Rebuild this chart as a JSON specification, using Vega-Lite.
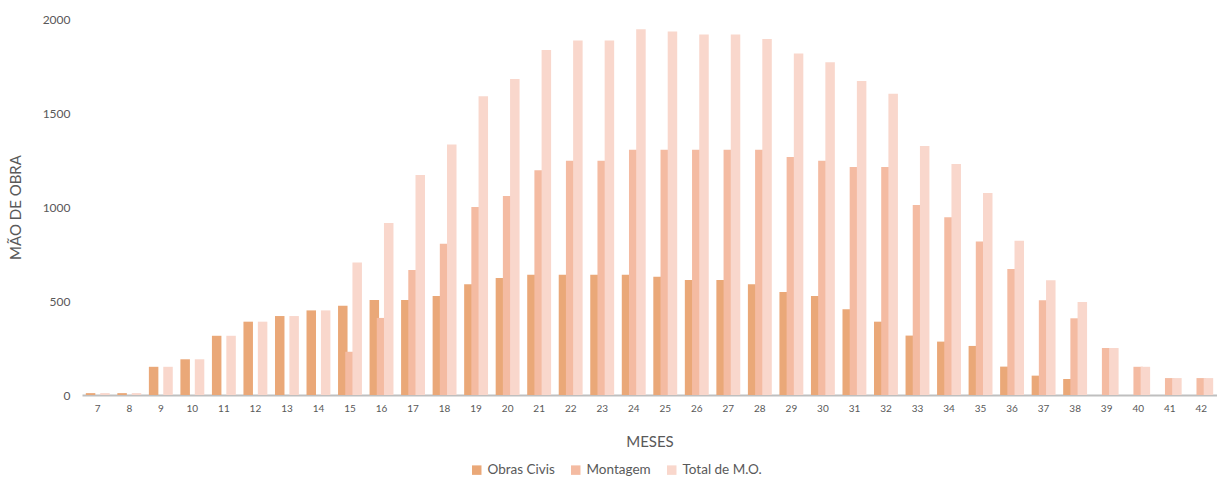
{
  "$schema": "https://vega.github.io/schema/vega-lite/v6.json",
  "width": 1135,
  "height": 376,
  "autosize": {"type": "none"},
  "padding": {"left": 82, "top": 19, "right": 0, "bottom": 82},
  "background": "white",
  "config": {
    "font": "Lato",
    "view": {"stroke": null},
    "axis": {"labelColor": "#595959", "titleColor": "#595959", "labelFont": "Lato", "titleFont": "Lato"}
  },
  "data": {
    "values": [
      {"mes": 7, "serie": "Obras Civis", "valor": 10}, {"mes": 7, "serie": "Montagem", "valor": 0}, {"mes": 7, "serie": "Total de M.O.", "valor": 10},
      {"mes": 8, "serie": "Obras Civis", "valor": 10}, {"mes": 8, "serie": "Montagem", "valor": 0}, {"mes": 8, "serie": "Total de M.O.", "valor": 10},
      {"mes": 9, "serie": "Obras Civis", "valor": 150}, {"mes": 9, "serie": "Montagem", "valor": 0}, {"mes": 9, "serie": "Total de M.O.", "valor": 150},
      {"mes": 10, "serie": "Obras Civis", "valor": 190}, {"mes": 10, "serie": "Montagem", "valor": 0}, {"mes": 10, "serie": "Total de M.O.", "valor": 190},
      {"mes": 11, "serie": "Obras Civis", "valor": 315}, {"mes": 11, "serie": "Montagem", "valor": 0}, {"mes": 11, "serie": "Total de M.O.", "valor": 315},
      {"mes": 12, "serie": "Obras Civis", "valor": 390}, {"mes": 12, "serie": "Montagem", "valor": 0}, {"mes": 12, "serie": "Total de M.O.", "valor": 390},
      {"mes": 13, "serie": "Obras Civis", "valor": 420}, {"mes": 13, "serie": "Montagem", "valor": 0}, {"mes": 13, "serie": "Total de M.O.", "valor": 420},
      {"mes": 14, "serie": "Obras Civis", "valor": 450}, {"mes": 14, "serie": "Montagem", "valor": 0}, {"mes": 14, "serie": "Total de M.O.", "valor": 450},
      {"mes": 15, "serie": "Obras Civis", "valor": 475}, {"mes": 15, "serie": "Montagem", "valor": 230}, {"mes": 15, "serie": "Total de M.O.", "valor": 705},
      {"mes": 16, "serie": "Obras Civis", "valor": 505}, {"mes": 16, "serie": "Montagem", "valor": 410}, {"mes": 16, "serie": "Total de M.O.", "valor": 915},
      {"mes": 17, "serie": "Obras Civis", "valor": 505}, {"mes": 17, "serie": "Montagem", "valor": 665}, {"mes": 17, "serie": "Total de M.O.", "valor": 1170},
      {"mes": 18, "serie": "Obras Civis", "valor": 527}, {"mes": 18, "serie": "Montagem", "valor": 805}, {"mes": 18, "serie": "Total de M.O.", "valor": 1332},
      {"mes": 19, "serie": "Obras Civis", "valor": 589}, {"mes": 19, "serie": "Montagem", "valor": 1000}, {"mes": 19, "serie": "Total de M.O.", "valor": 1589},
      {"mes": 20, "serie": "Obras Civis", "valor": 622}, {"mes": 20, "serie": "Montagem", "valor": 1059}, {"mes": 20, "serie": "Total de M.O.", "valor": 1681},
      {"mes": 21, "serie": "Obras Civis", "valor": 640}, {"mes": 21, "serie": "Montagem", "valor": 1195}, {"mes": 21, "serie": "Total de M.O.", "valor": 1835},
      {"mes": 22, "serie": "Obras Civis", "valor": 640}, {"mes": 22, "serie": "Montagem", "valor": 1246}, {"mes": 22, "serie": "Total de M.O.", "valor": 1886},
      {"mes": 23, "serie": "Obras Civis", "valor": 640}, {"mes": 23, "serie": "Montagem", "valor": 1246}, {"mes": 23, "serie": "Total de M.O.", "valor": 1886},
      {"mes": 24, "serie": "Obras Civis", "valor": 640}, {"mes": 24, "serie": "Montagem", "valor": 1305}, {"mes": 24, "serie": "Total de M.O.", "valor": 1945},
      {"mes": 25, "serie": "Obras Civis", "valor": 629}, {"mes": 25, "serie": "Montagem", "valor": 1305}, {"mes": 25, "serie": "Total de M.O.", "valor": 1934},
      {"mes": 26, "serie": "Obras Civis", "valor": 612}, {"mes": 26, "serie": "Montagem", "valor": 1305}, {"mes": 26, "serie": "Total de M.O.", "valor": 1917},
      {"mes": 27, "serie": "Obras Civis", "valor": 612}, {"mes": 27, "serie": "Montagem", "valor": 1305}, {"mes": 27, "serie": "Total de M.O.", "valor": 1917},
      {"mes": 28, "serie": "Obras Civis", "valor": 589}, {"mes": 28, "serie": "Montagem", "valor": 1305}, {"mes": 28, "serie": "Total de M.O.", "valor": 1894},
      {"mes": 29, "serie": "Obras Civis", "valor": 548}, {"mes": 29, "serie": "Montagem", "valor": 1266}, {"mes": 29, "serie": "Total de M.O.", "valor": 1816},
      {"mes": 30, "serie": "Obras Civis", "valor": 527}, {"mes": 30, "serie": "Montagem", "valor": 1246}, {"mes": 30, "serie": "Total de M.O.", "valor": 1770},
      {"mes": 31, "serie": "Obras Civis", "valor": 456}, {"mes": 31, "serie": "Montagem", "valor": 1213}, {"mes": 31, "serie": "Total de M.O.", "valor": 1670},
      {"mes": 32, "serie": "Obras Civis", "valor": 390}, {"mes": 32, "serie": "Montagem", "valor": 1213}, {"mes": 32, "serie": "Total de M.O.", "valor": 1603},
      {"mes": 33, "serie": "Obras Civis", "valor": 316}, {"mes": 33, "serie": "Montagem", "valor": 1011}, {"mes": 33, "serie": "Total de M.O.", "valor": 1325},
      {"mes": 34, "serie": "Obras Civis", "valor": 284}, {"mes": 34, "serie": "Montagem", "valor": 945}, {"mes": 34, "serie": "Total de M.O.", "valor": 1229},
      {"mes": 35, "serie": "Obras Civis", "valor": 261}, {"mes": 35, "serie": "Montagem", "valor": 816}, {"mes": 35, "serie": "Total de M.O.", "valor": 1074},
      {"mes": 36, "serie": "Obras Civis", "valor": 151}, {"mes": 36, "serie": "Montagem", "valor": 670}, {"mes": 36, "serie": "Total de M.O.", "valor": 820},
      {"mes": 37, "serie": "Obras Civis", "valor": 103}, {"mes": 37, "serie": "Montagem", "valor": 504}, {"mes": 37, "serie": "Total de M.O.", "valor": 610},
      {"mes": 38, "serie": "Obras Civis", "valor": 85}, {"mes": 38, "serie": "Montagem", "valor": 408}, {"mes": 38, "serie": "Total de M.O.", "valor": 495},
      {"mes": 39, "serie": "Obras Civis", "valor": 0}, {"mes": 39, "serie": "Montagem", "valor": 250}, {"mes": 39, "serie": "Total de M.O.", "valor": 250},
      {"mes": 40, "serie": "Obras Civis", "valor": 0}, {"mes": 40, "serie": "Montagem", "valor": 150}, {"mes": 40, "serie": "Total de M.O.", "valor": 150},
      {"mes": 41, "serie": "Obras Civis", "valor": 0}, {"mes": 41, "serie": "Montagem", "valor": 90}, {"mes": 41, "serie": "Total de M.O.", "valor": 90},
      {"mes": 42, "serie": "Obras Civis", "valor": 0}, {"mes": 42, "serie": "Montagem", "valor": 90}, {"mes": 42, "serie": "Total de M.O.", "valor": 90}
    ]
  },
  "mark": {"type": "bar", "width": 9.5},
  "encoding": {
    "x": {
      "field": "mes",
      "type": "ordinal",
      "scale": {"paddingInner": 0, "paddingOuter": 0},
      "axis": {
        "title": "MESES",
        "titleFontSize": 15,
        "titleFontWeight": "normal",
        "titlePadding": 21,
        "labelAngle": 0,
        "labelFontSize": 10,
        "labelPadding": 8,
        "ticks": false,
        "domainColor": "#BFBFBF",
        "domainWidth": 2
      }
    },
    "xOffset": {
      "field": "serie",
      "type": "nominal",
      "sort": ["Obras Civis", "Montagem", "Total de M.O."],
      "scale": {"paddingInner": 0, "paddingOuter": 0.69}
    },
    "y": {
      "field": "valor",
      "type": "quantitative",
      "scale": {"domain": [0, 2000], "nice": false},
      "axis": {
        "title": "MÃO DE OBRA",
        "titleFontSize": 15,
        "titleFontWeight": "normal",
        "titlePadding": 19,
        "values": [0, 500, 1000, 1500, 2000],
        "format": "d",
        "labelFontSize": 12,
        "labelPadding": 12,
        "ticks": false,
        "domain": false,
        "grid": false
      }
    },
    "color": {
      "field": "serie",
      "type": "nominal",
      "sort": ["Obras Civis", "Montagem", "Total de M.O."],
      "scale": {"domain": ["Obras Civis", "Montagem", "Total de M.O."], "range": ["#EAA878", "#F4BBA2", "#F9D7CC"]},
      "legend": {
        "title": null,
        "orient": "none",
        "legendX": 388,
        "legendY": 444,
        "direction": "horizontal",
        "symbolType": "square",
        "symbolSize": 90,
        "symbolStrokeWidth": 0,
        "labelFontSize": 13.5,
        "labelColor": "#595959",
        "columnPadding": 14
      }
    },
    "order": {"field": "serie", "sort": "ascending"}
  }
}
